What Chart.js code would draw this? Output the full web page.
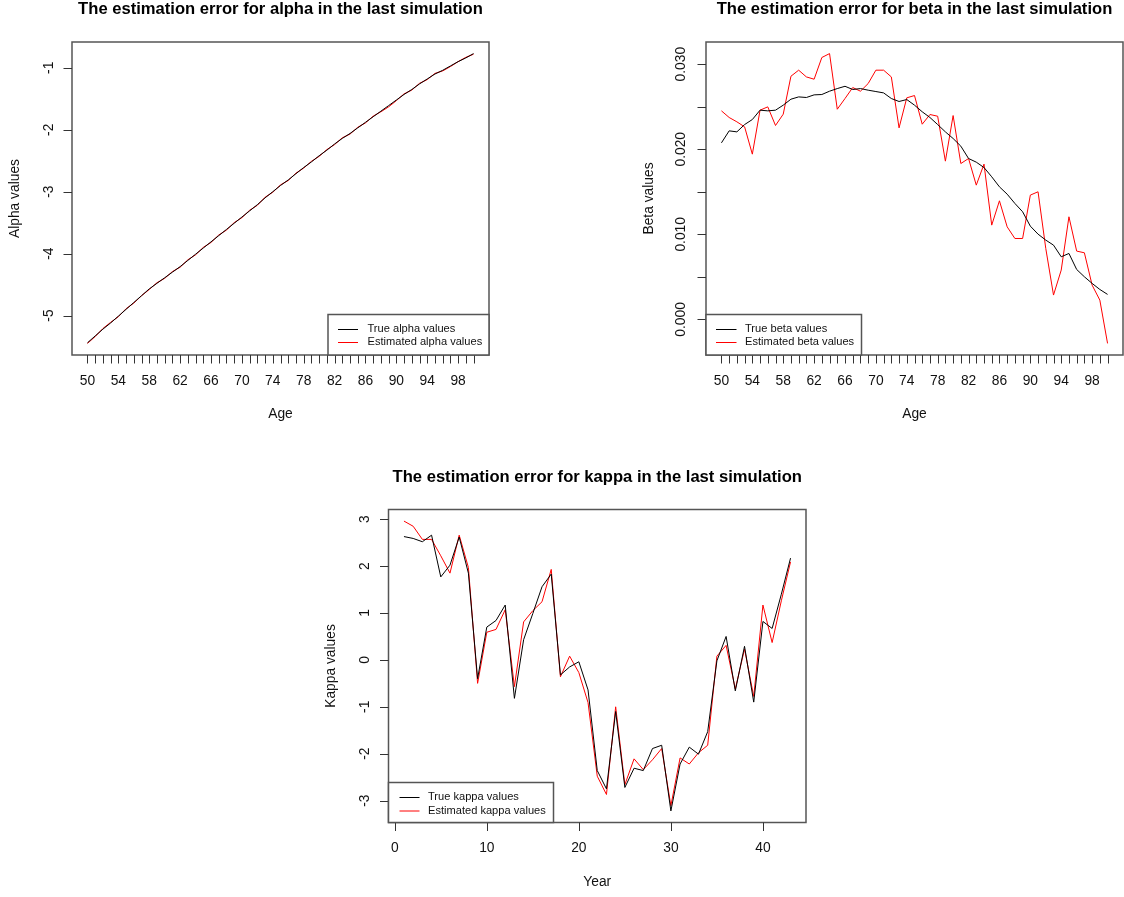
<!DOCTYPE html>
<html>
<head>
<meta charset="utf-8">
<script src="https://cdn.jsdelivr.net/npm/chart.js@4.4.1/dist/chart.umd.min.js"></script>
<style>
html, body { margin: 0; padding: 0; background: #fff; }
#wrap { position: relative; width: 1124px; height: 897px; }
canvas { position: absolute; left: 0; top: 0; }
</style>
</head>
<body>
<div id="wrap">
  <canvas id="alphaChart" width="1124" height="897"></canvas>
  <canvas id="betaChart" width="1124" height="897"></canvas>
  <canvas id="kappaChart" width="1124" height="897"></canvas>
</div>
<script>
// Ages 50..100 and years 1..43
const ages = [50, 51, 52, 53, 54, 55, 56, 57, 58, 59, 60, 61, 62, 63, 64, 65, 66, 67, 68, 69, 70,
  71, 72, 73, 74, 75, 76, 77, 78, 79, 80, 81, 82, 83, 84, 85, 86, 87, 88, 89, 90,
  91, 92, 93, 94, 95, 96, 97, 98, 99, 100];
const years = [1, 2, 3, 4, 5, 6, 7, 8, 9, 10, 11, 12, 13, 14, 15, 16, 17, 18, 19, 20, 21, 22,
  23, 24, 25, 26, 27, 28, 29, 30, 31, 32, 33, 34, 35, 36, 37, 38, 39, 40, 41, 42, 43];

// Tick labels
const ageLabels = [50, 54, 58, 62, 66, 70, 74, 78, 82, 86, 90, 94, 98];
const alphaTicks = [-5, -4, -3, -2, -1];
const betaTicks = [0, 0.005, 0.010, 0.015, 0.020, 0.025, 0.030];
const betaLabels = [0, 0.010, 0.020, 0.030];
const kappaTicks = [-3, -2, -1, 0, 1, 2, 3];
const yearTicks = [0, 10, 20, 30, 40];

// Alpha
const alphaTrue = [-5.44, -5.33, -5.22, -5.12, -5.01, -4.90, -4.79, -4.68, -4.57, -4.48, -4.39,
  -4.30, -4.21, -4.11, -4.01, -3.91, -3.81, -3.71, -3.61, -3.51, -3.41,
  -3.31, -3.21, -3.10, -3.00, -2.90, -2.81, -2.71, -2.61, -2.52, -2.42,
  -2.33, -2.23, -2.14, -2.06, -1.97, -1.88, -1.79, -1.70, -1.61, -1.52,
  -1.43, -1.35, -1.26, -1.18, -1.10, -1.04, -0.97, -0.90, -0.84, -0.77];
const alphaEst = [-5.45, -5.34, -5.21, -5.11, -5.02, -4.89, -4.80, -4.68, -4.58, -4.47, -4.40,
  -4.29, -4.22, -4.10, -4.02, -3.90, -3.82, -3.70, -3.62, -3.50, -3.42,
  -3.30, -3.22, -3.09, -3.01, -2.89, -2.82, -2.70, -2.62, -2.51, -2.43,
  -2.32, -2.24, -2.13, -2.07, -1.96, -1.89, -1.78, -1.71, -1.63, -1.53,
  -1.42, -1.36, -1.25, -1.19, -1.09, -1.05, -0.98, -0.90, -0.83, -0.78];

// Beta
const betaTrue = [0.02075, 0.02216, 0.02204, 0.0229, 0.02349, 0.02459, 0.02451, 0.02459, 0.02518, 0.02588, 0.02615,
  0.02608, 0.02639, 0.02643, 0.02682, 0.02713, 0.0274, 0.02702, 0.02713, 0.02694, 0.02678,
  0.02662, 0.02596, 0.02561, 0.02584, 0.02518, 0.0244, 0.02373, 0.0229, 0.02204, 0.02126,
  0.02036, 0.01891, 0.01848, 0.01785, 0.01676, 0.01558, 0.01472, 0.01363, 0.01265, 0.01096,
  0.01002, 0.00932, 0.00873, 0.00736, 0.00775, 0.00587, 0.00501, 0.00423, 0.00352, 0.00294];
const betaEst = [0.02451, 0.02373, 0.02322, 0.02263, 0.01942, 0.02459, 0.02498, 0.02279, 0.02412, 0.02858, 0.02929,
  0.0285, 0.02823, 0.03078, 0.03124, 0.0247, 0.02596, 0.02725, 0.02682, 0.02772, 0.02929,
  0.02929, 0.0285, 0.02251, 0.02604, 0.02631, 0.02294, 0.02408, 0.02388, 0.0186, 0.02396,
  0.01832, 0.01891, 0.01578, 0.01825, 0.01108, 0.01394, 0.01088, 0.00951, 0.00951, 0.01461,
  0.015, 0.00834, 0.00286, 0.0058, 0.01206, 0.00803, 0.00783, 0.00403, 0.00227, -0.00282];

// Kappa
const kappaTrue = [2.63, 2.59, 2.52, 2.66, 1.77, 2.02, 2.62, 1.85, -0.40, 0.70, 0.84,
  1.17, -0.82, 0.43, 0.99, 1.56, 1.83, -0.32, -0.15, -0.04, -0.64,
  -2.36, -2.75, -1.10, -2.72, -2.31, -2.36, -1.89, -1.82, -3.22, -2.22,
  -1.86, -2.01, -1.53, -0.02, 0.50, -0.66, 0.29, -0.90, 0.82, 0.67,
  1.40, 2.17];
const kappaEst = [2.96, 2.85, 2.57, 2.57, 2.22, 1.85, 2.66, 1.97, -0.50, 0.59, 0.65,
  1.07, -0.57, 0.81, 1.05, 1.24, 1.93, -0.36, 0.08, -0.27, -0.91,
  -2.48, -2.87, -1.00, -2.66, -2.11, -2.34, -2.13, -1.89, -3.11, -2.09,
  -2.22, -1.98, -1.82, 0.08, 0.31, -0.62, 0.23, -0.78, 1.17, 0.37,
  1.26, 2.09];

const FONT = '"Liberation Sans", Arial, sans-serif';
const W = 1124, H = 897;

// R style axis limits: data range widened by 4% on each side
function rRange(arrays) {
  const all = [].concat(...arrays);
  const lo = Math.min(...all), hi = Math.max(...all);
  const pad = (hi - lo) * 0.04;
  return [lo - pad, hi + pad];
}

function pts(xs, ys) {
  return xs.map((x, i) => ({ x: x, y: ys[i] }));
}

// Draws the base R look: frame box, outward ticks, labels, title and legend
const rFrame = {
  id: 'rFrame',
  afterDraw(chart, args, o) {
    const ctx = chart.ctx;
    const a = chart.chartArea;
    const sx = chart.scales.x, sy = chart.scales.y;
    ctx.save();

    // frame
    ctx.strokeStyle = '#555';
    ctx.lineWidth = 1.5;
    ctx.strokeRect(a.left, a.top, a.right - a.left, a.bottom - a.top);

    // x ticks
    ctx.lineWidth = 1;
    ctx.strokeStyle = '#333';
    ctx.beginPath();
    o.xTicks.forEach(v => {
      const px = Math.round(sx.getPixelForValue(v)) + 0.5;
      ctx.moveTo(px, a.bottom);
      ctx.lineTo(px, a.bottom + 8.5);
    });
    o.yTicks.forEach(v => {
      const py = Math.round(sy.getPixelForValue(v)) + 0.5;
      ctx.moveTo(a.left, py);
      ctx.lineTo(a.left - 8.5, py);
    });
    ctx.stroke();

    ctx.fillStyle = '#111';
    ctx.textBaseline = 'middle';
    ctx.textAlign = 'center';
    ctx.font = '13.8px ' + FONT;
    o.xLabels.forEach(v => {
      ctx.fillText(String(v), sx.getPixelForValue(v), o.xLabelY);
    });
    o.yLabels.forEach(v => {
      ctx.save();
      ctx.translate(o.yLabelX, sy.getPixelForValue(v));
      ctx.rotate(-Math.PI / 2);
      ctx.fillText(o.yFormat(v), 0, 0);
      ctx.restore();
    });

    // axis titles
    const cx = (a.left + a.right) / 2, cy = (a.top + a.bottom) / 2;
    ctx.fillText(o.xTitle, cx, o.xTitleY);
    ctx.save();
    ctx.translate(o.yTitleX, cy);
    ctx.rotate(-Math.PI / 2);
    ctx.fillText(o.yTitle, 0, 0);
    ctx.restore();

    // main title
    ctx.fillStyle = '#000';
    ctx.font = 'bold 16.6px ' + FONT;
    ctx.fillText(o.title, cx, o.titleY);

    // legend
    const lg = o.legend;
    ctx.fillStyle = '#fff';
    ctx.fillRect(lg.x, lg.y, lg.w, lg.h);
    ctx.strokeStyle = '#555';
    ctx.lineWidth = 1.5;
    ctx.strokeRect(lg.x, lg.y, lg.w, lg.h);
    ctx.font = '11.1px ' + FONT;
    ctx.textAlign = 'left';
    ctx.lineWidth = 1;
    chart.data.datasets.forEach((ds, i) => {
      const ry = lg.rows[i];
      ctx.strokeStyle = ds.borderColor;
      ctx.beginPath();
      ctx.moveTo(lg.x + lg.line0, ry + 0.5);
      ctx.lineTo(lg.x + lg.line1, ry + 0.5);
      ctx.stroke();
      ctx.fillStyle = '#111';
      ctx.fillText(ds.label, lg.x + lg.textX, ry);
    });
    ctx.restore();
  }
};

function makeChart(id, xs, trueVals, estVals, names, xLim, box, frame) {
  const yLim = rRange([trueVals, estVals]);
  return new Chart(document.getElementById(id), {
    type: 'line',
    data: {
      datasets: [
        // true series is drawn last so it sits on top of the estimate
        { label: names[0], data: pts(xs, trueVals), borderColor: '#000000', borderWidth: 1, order: 0 },
        { label: names[1], data: pts(xs, estVals), borderColor: '#ff0000', borderWidth: 1, order: 1 }
      ]
    },
    options: {
      responsive: false,
      animation: false,
      events: [],
      layout: { padding: { left: box[0], top: box[1], right: W - box[2], bottom: H - box[3] } },
      elements: { point: { radius: 0 }, line: { tension: 0 } },
      scales: {
        x: { type: 'linear', display: false, min: xLim[0], max: xLim[1] },
        y: { type: 'linear', display: false, min: yLim[0], max: yLim[1] }
      },
      plugins: {
        legend: { display: false },
        tooltip: { enabled: false },
        rFrame: frame
      }
    },
    plugins: [rFrame]
  });
}

makeChart('alphaChart', ages, alphaTrue, alphaEst,
  ['True alpha values', 'Estimated alpha values'],
  rRange([ages]), [72, 42, 489, 355], {
    title: 'The estimation error for alpha in the last simulation',
    titleY: 9.5,
    xTitle: 'Age', xTitleY: 414.5,
    yTitle: 'Alpha values', yTitleX: 15,
    xTicks: ages, xLabels: ageLabels, xLabelY: 381,
    yTicks: alphaTicks, yLabels: alphaTicks, yLabelX: 49,
    yFormat: v => String(v),
    legend: { x: 328, y: 314.5, w: 161, h: 40.5, line0: 10, line1: 30, textX: 39.5, rows: [329, 342] }
  });

makeChart('betaChart', ages, betaTrue, betaEst,
  ['True beta values', 'Estimated beta values'],
  rRange([ages]), [706, 42, 1123, 355], {
    title: 'The estimation error for beta in the last simulation',
    titleY: 9.5,
    xTitle: 'Age', xTitleY: 414.5,
    yTitle: 'Beta values', yTitleX: 649,
    xTicks: ages, xLabels: ageLabels, xLabelY: 381,
    yTicks: betaTicks, yLabels: betaLabels, yLabelX: 681.5,
    yFormat: v => v.toFixed(3),
    legend: { x: 706, y: 314.5, w: 155.5, h: 40.5, line0: 10, line1: 30.5, textX: 39, rows: [329, 342] }
  });

makeChart('kappaChart', years, kappaTrue, kappaEst,
  ['True kappa values', 'Estimated kappa values'],
  rRange([years]), [388.5, 509.5, 806, 822.5], {
    title: 'The estimation error for kappa in the last simulation',
    titleY: 477,
    xTitle: 'Year', xTitleY: 882,
    yTitle: 'Kappa values', yTitleX: 331.5,
    xTicks: yearTicks, xLabels: yearTicks, xLabelY: 848.5,
    yTicks: kappaTicks, yLabels: kappaTicks, yLabelX: 365,
    yFormat: v => String(v),
    legend: { x: 388.5, y: 782.5, w: 165, h: 40, line0: 11, line1: 31, textX: 39.5, rows: [797, 810.5] }
  });
</script>
</body>
</html>
